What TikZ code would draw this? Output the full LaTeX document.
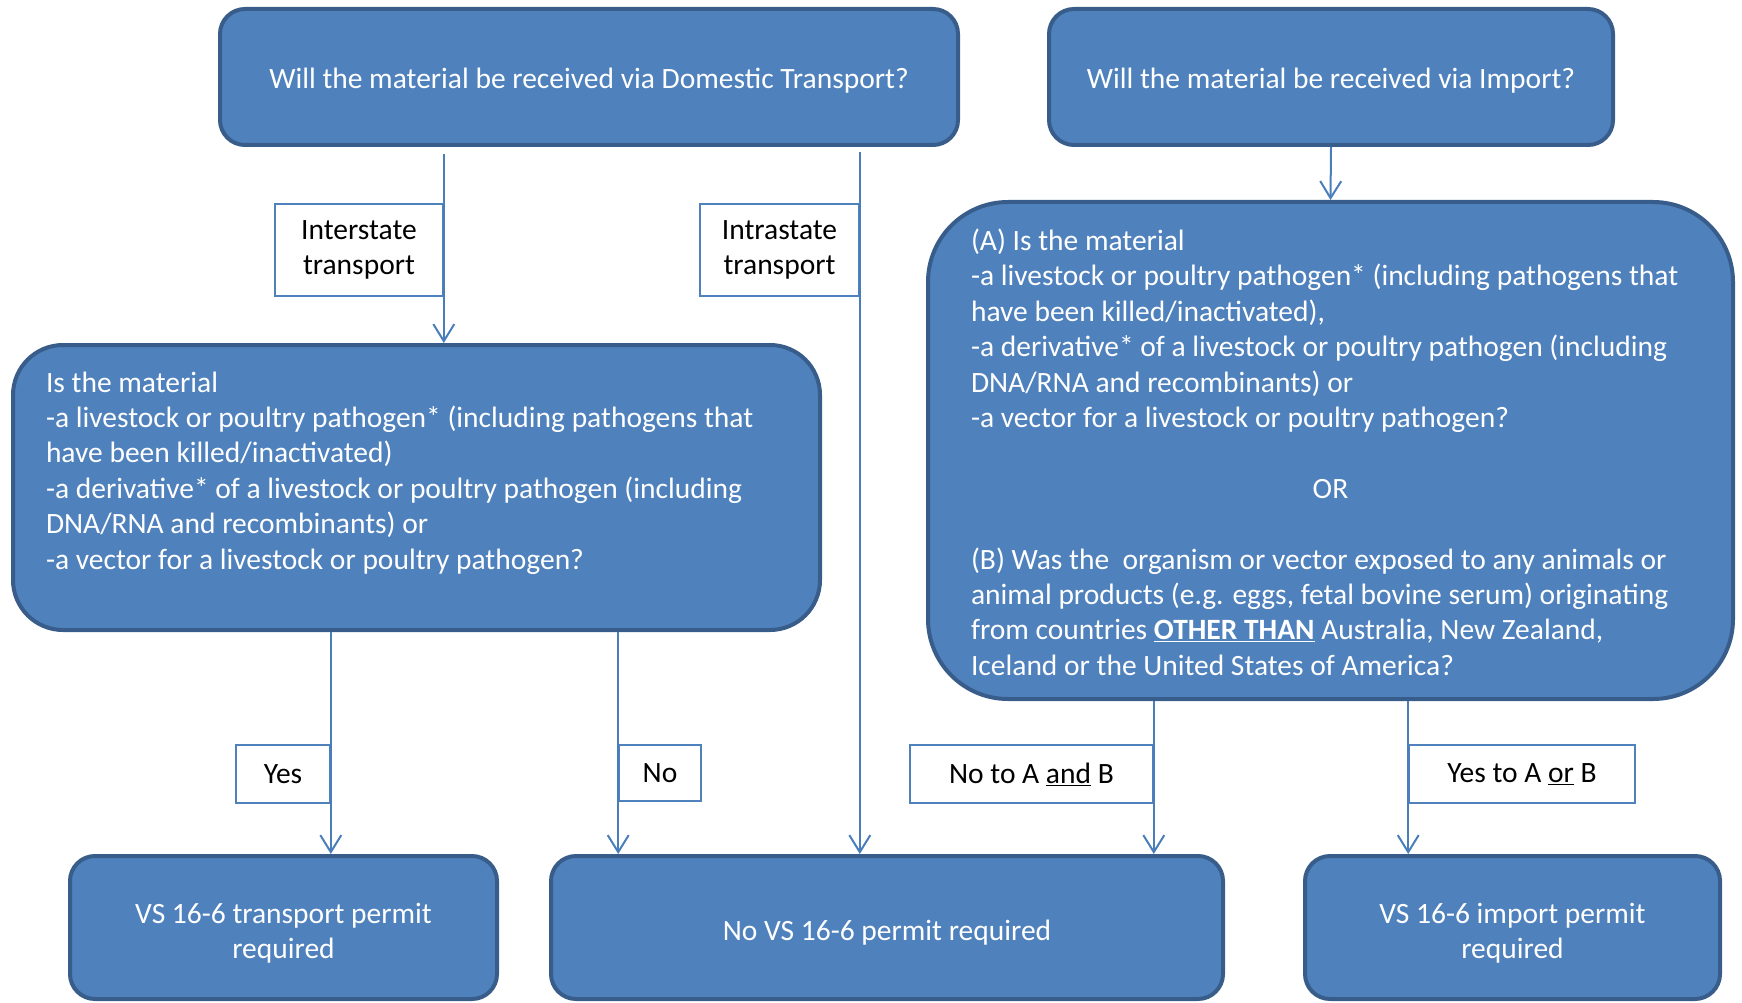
\documentclass[tikz,border=0pt]{standalone}
\usepackage{fontspec}
\setmainfont{Carlito}
\usetikzlibrary{arrows.meta,positioning}

\definecolor{boxfill}{HTML}{4F81BD}
\definecolor{boxline}{HTML}{385D8A}
\definecolor{connline}{HTML}{4A7EBB}

% strut that pushes a centred text down a little
\newcommand{\pushdown}[1]{\rule{0pt}{#1}}

\begin{document}
\begin{tikzpicture}[x=1pt, y=-1pt,
    every node/.style={font=\fontsize{29.5}{35.4}\selectfont, inner sep=0pt},
    bluebox/.style={draw=boxline, fill=boxfill, line width=4pt, text=white, align=center},
    tagbox/.style={draw=boxfill, fill=white, line width=1.6pt, text=black, align=center},
    conn/.style={draw=connline, line width=2pt, -{Straight Barb[length=17pt,width=21pt]}}]

    % --- Page frame ---
    \useasboundingbox (0,0) rectangle (1742,1003);

    % --- Top questions ---
    \node[bluebox, rounded corners=25pt, minimum width=738pt, minimum height=136pt] (dom) at (589,77)
        {\pushdown{28pt}Will the material be received via Domestic Transport?};
    \node[bluebox, rounded corners=25pt, minimum width=564pt, minimum height=136pt] (imp) at (1331,77)
        {\pushdown{28pt}Will the material be received via Import?};

    % --- Second questions ---
    % Domestic: is it a pathogen, derivative or vector?
    \node[bluebox, rounded corners=50pt, minimum width=807pt, minimum height=285pt,
          text width=741pt, align=flush left, text height=20pt, text depth=211pt] (qdom) at (416.5,487.5)
        {Is the material\\
         -a livestock or poultry pathogen* (including pathogens that\\
         have been killed/inactivated)\\
         -a derivative* of a livestock or poultry pathogen (including\\
         DNA/RNA and recombinants) or\\
         -a vector for a livestock or poultry pathogen?};

    % Import: question (A) or question (B)
    \node[bluebox, rounded corners=80pt, minimum width=805pt, minimum height=497pt,
          text width=719pt, align=flush left, text height=20pt, text depth=420pt] (qimp) at (1330.5,450.5)
        {(A) Is the material\\
         -a livestock or poultry pathogen* (including pathogens that\\
         have been killed/inactivated),\\
         -a derivative* of a livestock or poultry pathogen (including\\
         DNA/RNA and recombinants) or\\
         -a vector for a livestock or poultry pathogen?\\[35.4pt]
         \makebox[\linewidth]{OR}\\[35.4pt]
         (B) Was the~ organism or vector exposed to any animals or\\
         animal products (e.g. eggs, fetal bovine serum) originating\\
         from countries \textbf{\underline{OTHER THAN}} Australia, New Zealand,\\
         Iceland or the United States of America?};

    % --- Outcomes ---
    \node[bluebox, rounded corners=25pt, minimum width=427pt, minimum height=143pt] (transp) at (283.5,927.5)
        {\pushdown{32pt}VS 16-6 transport permit\\required};
    \node[bluebox, rounded corners=25pt, minimum width=672pt, minimum height=143pt] (noperm) at (887,927.5)
        {\pushdown{30pt}No VS 16-6 permit required};
    \node[bluebox, rounded corners=25pt, minimum width=415pt, minimum height=143pt] (impperm) at (1512.5,927.5)
        {\pushdown{32pt}VS 16-6 import permit\\required};

    % --- Answer tags ---
    \node[tagbox, minimum width=168pt, minimum height=92pt] (inter) at (359,250) {Interstate\\transport};
    \node[tagbox, minimum width=159pt, minimum height=92pt] (intra) at (779.5,250) {Intrastate\\transport};
    \node[tagbox, minimum width=94pt, minimum height=58pt] (yes) at (283,774) {Yes};
    \node[tagbox, minimum width=82pt, minimum height=56pt] (no) at (660,773) {No};
    \node[tagbox, minimum width=243pt, minimum height=58pt] (noab) at (1031.5,774) {No to A \underline{and} B};
    \node[tagbox, minimum width=226pt, minimum height=58pt] (yesab) at (1522,774) {Yes to A \underline{or} B};

    % --- Connectors ---
    \draw[conn, shorten <=7pt] (inter.east |- dom.south) -- (inter.east |- qdom.north);
    \draw[conn, shorten <=5pt] (intra.east |- dom.south) -- (intra.east |- noperm.north);
    \draw[conn] (imp.south) -- (qimp.north);
    \draw[conn] (yes.east |- qdom.south) -- (yes.east |- transp.north);
    \draw[conn] (no.west |- qdom.south) -- (no.west |- noperm.north);
    \draw[conn] (noab.east |- qimp.south) -- (noab.east |- noperm.north);
    \draw[conn] (yesab.west |- qimp.south) -- (yesab.west |- impperm.north);

\end{tikzpicture}
\end{document}
